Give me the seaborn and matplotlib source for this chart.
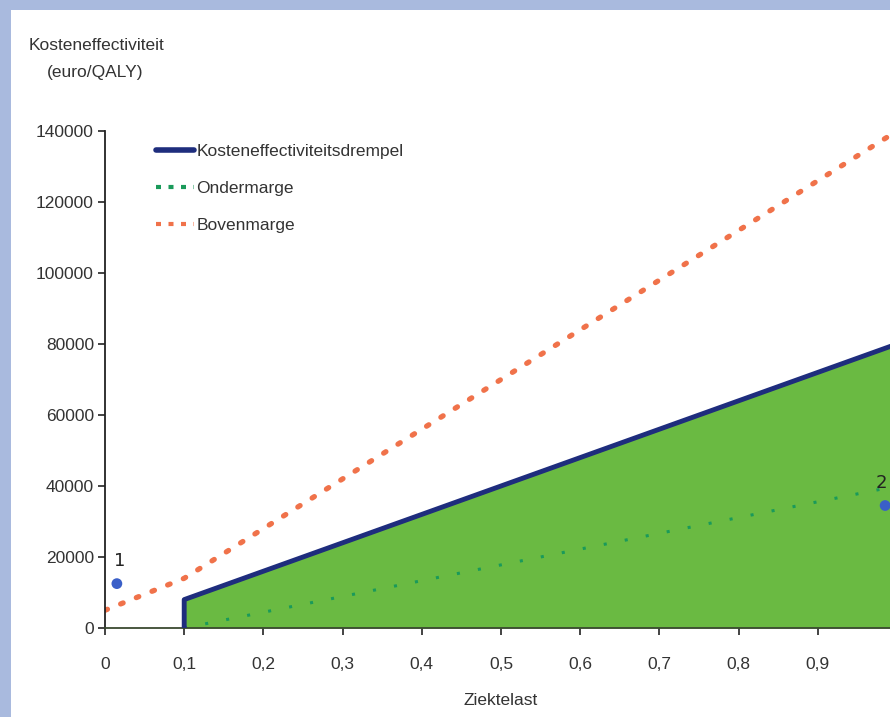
import matplotlib
matplotlib.use('Agg')
import matplotlib.pyplot as plt
from matplotlib.lines import Line2D
from matplotlib.patches import Rectangle
import seaborn as sns

sns.set_style('ticks')
plt.rcParams['font.family'] = ['Liberation Sans', 'DejaVu Sans']

# data
drempel_x = [0.1, 0.1, 1.0]
drempel_y = [0, 8000, 80000]
onder_x = [0.1, 1.0]
onder_y = [0, 40000]
boven_x = [0.0, 0.1, 1.0]
boven_y = [5000, 14000, 140000]
punt_x = [0.015, 0.985]
punt_y = [12500, 34500]
punt_labels = ['1', '2']
x_ticks = [0, 0.1, 0.2, 0.3, 0.4, 0.5, 0.6, 0.7, 0.8, 0.9]
y_ticks = [0, 20000, 40000, 60000, 80000, 100000, 120000, 140000]

navy = '#1e2d7d'
green_fill = '#6aba42'
green_dots = '#1a9a5a'
orange = '#f0724a'
text_col = '#333333'

fig = plt.figure(figsize=(8.9, 7.17), dpi=100)
fig.patch.set_facecolor('#a9bade')
# white panel, lavender strip left and top
fig.patches.append(Rectangle((11 / 890, 0), 1, (717 - 10) / 717,
                             transform=fig.transFigure, facecolor='white',
                             edgecolor='none', zorder=-10))

# axes runs slightly past the right edge like the cropped original
ax = fig.add_axes([105 / 890, 89 / 717, 792 / 890, 497 / 717])
ax.set_facecolor('none')

ax.fill_between(drempel_x[1:], [0, 0], drempel_y[1:], color=green_fill, lw=0, zorder=1)
sns.lineplot(x=drempel_x, y=drempel_y, sort=False, estimator=None, color=navy, lw=3.5,
             ax=ax, zorder=3)
sns.lineplot(x=onder_x, y=onder_y, sort=False, estimator=None, color=green_dots, lw=2.2,
             ax=ax, zorder=2, linestyle=(0, (1, 6)))
sns.lineplot(x=boven_x, y=boven_y, sort=False, estimator=None, color=orange, lw=3.8,
             ax=ax, zorder=2, linestyle=(0, (0.5, 2.7)), dash_capstyle='round')
sns.scatterplot(x=punt_x, y=punt_y, color='#3a5fc8', s=60, edgecolor='none', ax=ax, zorder=4)
for px, py, lab in zip(punt_x, punt_y, punt_labels):
    ax.annotate(lab, (px, py), xytext=(2 if px < 0.5 else -3, 10), textcoords='offset points',
                ha='center', va='bottom', fontsize=13, color='#222222',
                family=['DejaVu Sans'])

ax.set_xlim(0, 1.0)
ax.set_ylim(0, 140000)
ax.set_xticks(x_ticks)
ax.set_xticklabels([('%g' % t).replace('.', ',') for t in x_ticks])
ax.set_yticks(y_ticks)
ax.set_yticklabels([str(t) for t in y_ticks])
ax.tick_params(axis='both', labelsize=12.5, colors='#222222', labelcolor=text_col,
               length=5, width=1.2)
ax.tick_params(axis='x', pad=16)
ax.tick_params(axis='y', pad=3)
sns.despine(ax=ax)
ax.spines['left'].set_linewidth(1.3)
ax.spines['bottom'].set_linewidth(1.3)
ax.spines['left'].set_color('#222222')
ax.spines['bottom'].set_color('#3a4a30')

ax.set_xlabel('Ziektelast', fontsize=12.5, color=text_col, labelpad=15)
fig.text(96 / 890, 1 - 45 / 717, 'Kosteneffectiviteit', ha='center', va='center',
         fontsize=12.5, color=text_col)
fig.text(95 / 890, 1 - 72 / 717, '(euro/QALY)', ha='center', va='center',
         fontsize=12.5, color=text_col)

handles = [
    Line2D([], [], color=navy, lw=4),
    Line2D([], [], color=green_dots, lw=3, linestyle=(0, (1.2, 1.8))),
    Line2D([], [], color=orange, lw=3, linestyle=(0, (1.2, 1.8))),
]
leg = ax.legend(handles, ['Kosteneffectiviteitsdrempel', 'Ondermarge', 'Bovenmarge'],
                loc='upper left', bbox_to_anchor=(0.045, 1.005), frameon=False,
                fontsize=12.5, handlelength=2.2, handletextpad=0.1, labelspacing=1.25,
                labelcolor=text_col)

fig.savefig('out.png', dpi=100, facecolor=fig.get_facecolor())
